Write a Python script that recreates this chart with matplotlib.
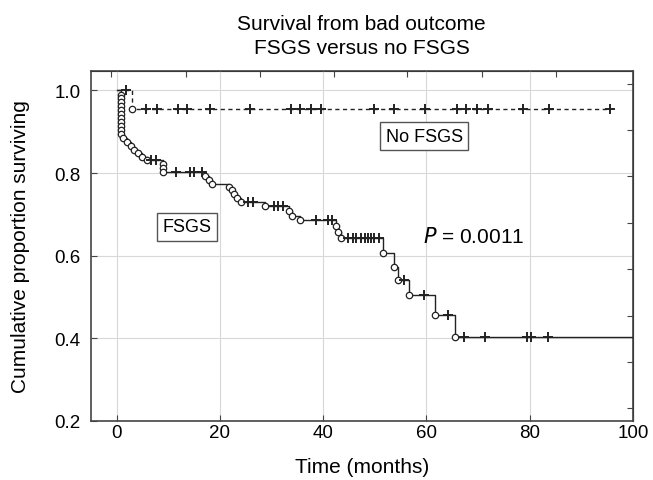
import matplotlib
matplotlib.use("Agg")
import matplotlib.pyplot as plt
from matplotlib.ticker import MultipleLocator

plt.rcParams['font.family'] = ['Liberation Sans', 'DejaVu Sans']

# FSGS group: event times (circles) and survival after each event
fsgs_event_t = [0.8] * 11 + [1.3, 2.0, 2.7, 3.4, 4.2, 5.0, 5.9,
                             8.9, 8.9, 8.9, 17.2, 17.8, 18.4,
                             21.8, 22.3, 22.8, 23.4, 24.0, 28.8,
                             33.3, 33.9, 35.5, 42.5, 42.9, 43.5,
                             51.5, 53.8, 54.4, 56.6, 61.7, 65.5]
fsgs_event_s = [0.990, 0.981, 0.971, 0.962, 0.952, 0.943, 0.933, 0.924, 0.914, 0.905, 0.895,
                0.885, 0.876, 0.866, 0.857, 0.848, 0.840, 0.832,
                0.822, 0.812, 0.802, 0.792, 0.783, 0.774,
                0.766, 0.758, 0.749, 0.740, 0.731, 0.720,
                0.708, 0.697, 0.686, 0.672, 0.658, 0.643,
                0.607, 0.573, 0.540, 0.505, 0.457, 0.404]
# FSGS censored times (plus marks)
fsgs_cens_t = [6.7, 7.7, 11.5, 14.2, 15.0, 16.6, 25.4, 26.5, 30.4, 31.3, 32.2,
               38.7, 40.9, 41.7, 44.8, 45.8, 46.4, 47.4, 48.0, 48.7, 49.3, 49.9, 50.9,
               55.7, 59.6, 64.2, 67.3, 71.4, 79.4, 80.2, 83.5]

# No FSGS group
nofsgs_event_t = [2.9]
nofsgs_event_s = [0.955]
nofsgs_cens_t = [1.9, 5.6, 7.8, 11.8, 13.7, 18.0, 25.8, 33.7, 35.5, 37.6, 39.6,
                 49.8, 53.7, 59.8, 65.9, 67.7, 69.8, 71.9, 78.7, 83.7, 95.6]

fsgs_end = 100
p_text = "= 0.0011"

# unlabelled frame ticks on the top and right edges
top_ticks = [-1.0, 13.4, 27.7, 42.0, 56.3, 70.7, 85.0]
right_ticks = [1.016, 0.904, 0.792, 0.680, 0.568, 0.455, 0.343, 0.231]


def km_curve(ev_t, ev_s, end):
    t = [0] + list(ev_t) + [end]
    s = [1.0] + list(ev_s) + [ev_s[-1]]
    return t, s


def surv_at(times, ev_t, ev_s):
    out = []
    for x in times:
        v = 1.0
        for et, es in zip(ev_t, ev_s):
            if et <= x:
                v = es
        out.append(v)
    return out


ink = '#222222'
fig = plt.figure(figsize=(6.53, 4.81), dpi=100)
ax = fig.add_axes([0.139, 0.123, 0.8305, 0.728])

# FSGS
t, s = km_curve(fsgs_event_t, fsgs_event_s, fsgs_end)
ax.step(t, s, where='post', color=ink, lw=1.0, zorder=3)
ax.plot(fsgs_event_t, fsgs_event_s, 'o', ms=4.6, mfc='white', mec=ink, mew=0.9, zorder=4)
ax.plot(fsgs_cens_t, surv_at(fsgs_cens_t, fsgs_event_t, fsgs_event_s), '+',
        ms=7, mew=1.4, color=ink, zorder=4)

# No FSGS
t2, s2 = km_curve(nofsgs_event_t, nofsgs_event_s, max(nofsgs_cens_t))
ax.step(t2, s2, where='post', color=ink, lw=1.0, ls=(0, (3, 2.5)), zorder=3)
ax.plot(nofsgs_event_t, nofsgs_event_s, 'o', ms=4.6, mfc='white', mec=ink, mew=0.9, zorder=4)
ax.plot(nofsgs_cens_t, surv_at(nofsgs_cens_t, nofsgs_event_t, nofsgs_event_s), '+',
        ms=7, mew=1.4, color=ink, zorder=4)

ax.set_xlim(-5, 100)
ax.set_ylim(0.2, 1.048)
ax.xaxis.set_major_locator(MultipleLocator(20))
ax.yaxis.set_major_locator(MultipleLocator(0.2))
ax.grid(True, which='major', color='#d8d8d8', lw=0.8)
ax.tick_params(direction='in', labelsize=13.5, color='#444444', length=4)
ax.tick_params(axis='x', pad=2.5)
ax.tick_params(axis='y', pad=7.5)
for sp in ax.spines.values():
    sp.set_color('#444444')
    sp.set_linewidth(1.2)

top = ax.secondary_xaxis('top')
top.set_xticks(top_ticks)
top.tick_params(direction='in', length=4, color='#444444', labeltop=False)
right = ax.secondary_yaxis('right')
right.set_yticks(right_ticks)
right.tick_params(direction='in', length=4, color='#444444', labelright=False)

box = dict(boxstyle='square,pad=0.3', fc='white', ec='#555555', lw=1.0)
ax.text(59.6, 0.889, "No FSGS", ha='center', va='center', fontsize=13, bbox=box)
ax.text(13.6, 0.67, "FSGS", ha='center', va='center', fontsize=13, bbox=box)
ax.text(59.4, 0.648, r"$\it{P}$ " + p_text, ha='left', va='center', fontsize=15)

ax.set_xlabel("Time (months)", fontsize=15)
ax.set_ylabel("Cumulative proportion surviving", fontsize=15)
ax.xaxis.set_label_coords(0.5, -0.103)
ax.yaxis.set_label_coords(-0.112, 0.5)
fig.text(0.554, 0.924, "Survival from bad outcome\nFSGS versus no FSGS", ha='center', va='center',
         fontsize=15, linespacing=1.3)

fig.savefig("out.png", dpi=100)
